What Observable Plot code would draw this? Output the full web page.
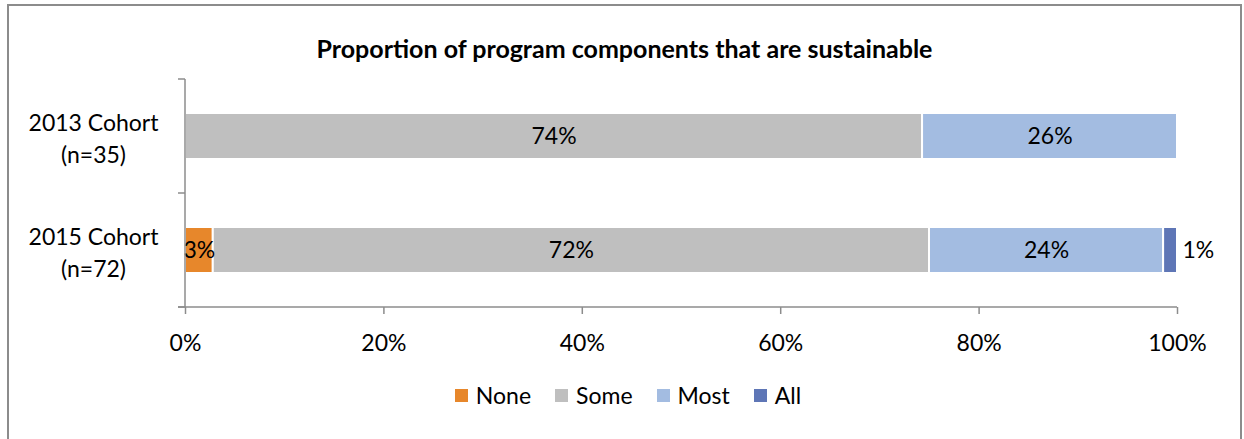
<!DOCTYPE html>
<html><head><meta charset="utf-8">
<script src="https://cdn.jsdelivr.net/npm/d3@7"></script>
<script src="https://cdn.jsdelivr.net/npm/@observablehq/plot@0.6"></script>
<style>
html,body{margin:0;padding:0;background:#fff;width:1244px;height:439px;overflow:hidden;font-family:Lato,sans-serif;}
#frame{position:absolute;left:7px;top:4px;width:1231px;height:450px;border:2px solid #8c8c8c;}
#title{position:absolute;left:9px;width:1231px;top:33px;text-align:center;font-weight:bold;font-size:25px;color:#000;line-height:30px;white-space:nowrap;}
#chart{position:absolute;left:0;top:70px;}
#legend{position:absolute;left:6px;width:1244px;top:381px;display:flex;justify-content:center;align-items:center;font-size:23px;line-height:28px;color:#000;}
.item{display:flex;align-items:center;margin:0 12px;}
.sw{width:13px;height:13px;margin-right:8px;}
</style>
</head><body>
<div id="frame"></div>
<div id="title">Proportion of program components that are sustainable</div>
<div id="chart"></div>
<div id="legend"></div>
<script>
const categories = ["2013 Cohort\n(n=35)", "2015 Cohort\n(n=72)"];
const responses = ["None", "Some", "Most", "All"];
const colors = ["#E7872B", "#BFBFBF", "#A3BCE1", "#5E76B6"];
const cohort2013 = [0, 0.743, 0.257, 0];
const cohort2015 = [0.028, 0.722, 0.236, 0.014];
const xTicks = [0, 0.2, 0.4, 0.6, 0.8, 1];

const fmt = d3.format(".0%");
const rows = [];
[cohort2013, cohort2015].forEach((vals, i) => {
  vals.forEach((v, j) => { if (v > 0) rows.push({cohort: categories[i], response: responses[j], value: v}); });
});

const axisColor = "#8c8c8c";
function frameLines(index, scales, values, dims) {
  const x = scales.x, y = scales.y;
  const step = y(categories[1]) - y(categories[0]);
  const bounds = [y(categories[0]), ...categories.map(c => y(c) + step)];
  const x0 = x(0), x1 = x(1);
  const g = d3.create("svg:g").attr("stroke", axisColor).attr("stroke-width", 1.5).attr("fill", "none");
  const top = bounds[0], bottom = bounds[bounds.length - 1];
  g.append("line").attr("x1", x0).attr("x2", x0).attr("y1", top).attr("y2", bottom);
  g.append("line").attr("x1", x0 - 7).attr("x2", x1).attr("y1", bottom).attr("y2", bottom);
  bounds.forEach(b => g.append("line").attr("x1", x0 - 7).attr("x2", x0).attr("y1", b).attr("y2", b));
  return g.node();
}

const plot = Plot.plot({
  width: 1244, height: 300,
  marginLeft: 185, marginRight: 67, marginTop: 8, marginBottom: 63,
  style: {fontFamily: "Lato, sans-serif", fontSize: "23px", color: "#000", background: "transparent"},
  x: {domain: [0, 1]},
  y: {domain: categories, padding: 0},
  color: {domain: responses, range: colors},
  marks: [
    Plot.barX(rows, Plot.stackX({x: "value", y: "cohort", fill: "response", order: responses, stroke: "white", strokeWidth: 2, insetTop: 34, insetBottom: 34})),
    Plot.text(rows, Plot.stackX({x: "value", y: "cohort", z: "response", order: responses, text: d => d.value >= 0.02 ? fmt(d.value) : "", fill: "black"})),
    Plot.text(rows, Plot.stackX2({x: "value", y: "cohort", z: "response", order: responses, text: d => d.value < 0.02 ? fmt(d.value) : "", fill: "black", textAnchor: "start", dx: 5})),
    Plot.axisY({tickSize: 0, tickPadding: 92, textAnchor: "middle", lineHeight: 1.4, fill: "black", label: null}),
    Plot.axisX({ticks: xTicks, tickFormat: fmt, tickSize: 7, tickPadding: 20, stroke: axisColor, strokeWidth: 1.5, fill: "black", label: null}),
    frameLines
  ]
});
document.getElementById("chart").appendChild(plot);

const legend = d3.select("#legend");
responses.forEach((r, i) => {
  const it = legend.append("div").attr("class", "item");
  it.append("div").attr("class", "sw").style("background", colors[i]);
  it.append("span").text(r);
});
</script>
</body></html>
